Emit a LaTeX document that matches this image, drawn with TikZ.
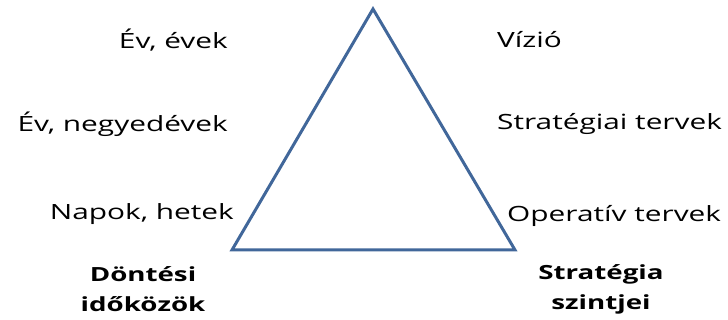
\documentclass[tikz,border=0pt]{standalone}
\usepackage{fontspec}
\setmainfont[FakeStretch=1.42]{Open Sans}
\begin{document}
\begin{tikzpicture}[x=1pt, y=-1pt, font=\fontsize{21}{26}\selectfont,
        leftlbl/.style={anchor=east, inner sep=0pt},
        rightlbl/.style={anchor=west, inner sep=0pt},
        headlbl/.style={align=center, inner sep=0pt, font=\fontsize{19.5}{30}\selectfont\bfseries},
        tri/.style={draw=triblue, line width=3pt, line join=miter}]
      \definecolor{triblue}{HTML}{41679A}
      \useasboundingbox (0,0) rectangle (728,320);
      \coordinate (top)   at (373,9);
      \coordinate (left)  at (232,250);
      \coordinate (right) at (515,250);
      \draw[tri] (top) -- (left) -- (right) -- cycle;
      \node[leftlbl]  (years)    at (228,40)  {Év, évek};
      \node[leftlbl]  (quarters) at (228,124) {Év, negyedévek};
      \node[leftlbl]  (days)     at (234,214) {Napok, hetek};
      \node[rightlbl] (vision)   at (497,40)  {Vízió};
      \node[rightlbl] (strat)    at (497,124) {Stratégiai tervek};
      \node[rightlbl] (oper)     at (507,216) {Operatív tervek};
      \node[headlbl]  (interval) at (143,289) {Döntési\\időközök};
      \node[headlbl]  (levels)   at (601,289) {Stratégia\\szintjei};
    \end{tikzpicture}
\end{document}
